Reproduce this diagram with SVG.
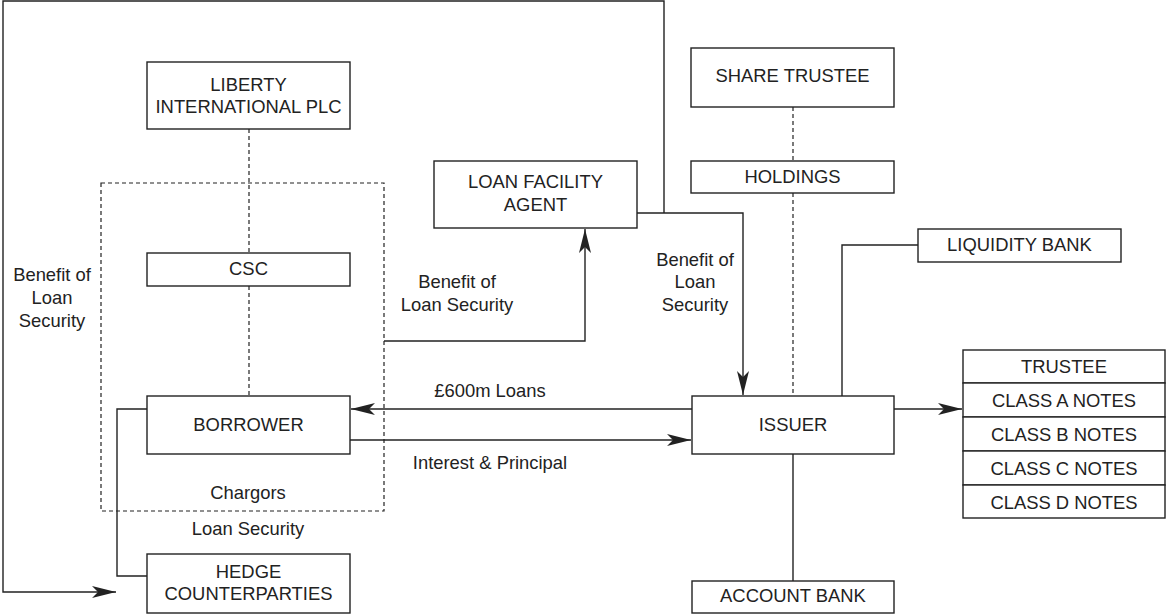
<svg xmlns="http://www.w3.org/2000/svg" width="1166" height="614" viewBox="0 0 1166 614">
<style>
.box{fill:#fff;stroke:#222;stroke-width:1.4}
.ln{fill:none;stroke:#222;stroke-width:1.4}
.dash{fill:none;stroke:#222;stroke-width:1.2;stroke-dasharray:4,3}
text{font-family:"Liberation Sans",Arial,sans-serif;font-size:18.4px;fill:#222;text-anchor:middle}
</style>
<defs>
<marker id="ah" markerUnits="userSpaceOnUse" markerWidth="24" markerHeight="12" refX="24" refY="6" orient="auto" overflow="visible">
<path d="M0,0 L24,6 L0,12 L6,6 Z" fill="#222"/>
</marker>
</defs>
<rect width="1166" height="614" fill="#fff"/>
<g id="connectors">
<rect class="dash" x="101" y="183" width="283" height="328"/>
<line class="dash" x1="249" y1="129" x2="249" y2="253"/>
<line class="dash" x1="249" y1="286" x2="249" y2="396"/>
<line class="dash" x1="793" y1="107" x2="793" y2="161"/>
<line class="dash" x1="793" y1="193" x2="793" y2="396"/>
<path class="ln" d="M664,213 L664,1 L3,1 L3,592 L116,592" marker-end="url(#ah)"/>
<path class="ln" d="M637,213 L743,213 L743,395" marker-end="url(#ah)"/>
<path class="ln" d="M384,341 L585,341 L585,229" marker-end="url(#ah)"/>
<path class="ln" d="M692,409 L351,409" marker-end="url(#ah)"/>
<path class="ln" d="M350,440 L691,440" marker-end="url(#ah)"/>
<path class="ln" d="M894,409 L962,409" marker-end="url(#ah)"/>
<path class="ln" d="M147,409 L117,409 L117,576 L147,576"/>
<path class="ln" d="M918,245 L842,245 L842,396"/>
<line class="ln" x1="793" y1="454" x2="793" y2="581"/>
<text x="52" y="281">Benefit of</text>
<text x="52" y="304">Loan</text>
<text x="52" y="327">Security</text>
<text x="457" y="288">Benefit of</text>
<text x="457" y="311">Loan Security</text>
<text x="695" y="266">Benefit of</text>
<text x="695" y="288">Loan</text>
<text x="695" y="311">Security</text>
<text x="490" y="397">£600m Loans</text>
<text x="490" y="469">Interest &amp; Principal</text>
<text x="248" y="499">Chargors</text>
<text x="248" y="535">Loan Security</text>
</g>
<g id="liberty"><rect class="box" x="147" y="62" width="203" height="67"/><text x="248.5" y="91">LIBERTY</text><text x="248.5" y="113">INTERNATIONAL PLC</text></g>
<g id="csc"><rect class="box" x="147" y="253" width="203" height="33"/><text x="248.5" y="275">CSC</text></g>
<g id="borrower"><rect class="box" x="147" y="396" width="203" height="58"/><text x="248.5" y="431">BORROWER</text></g>
<g id="hedge"><rect class="box" x="147" y="554" width="203" height="59"/><text x="248.5" y="578">HEDGE</text><text x="248.5" y="600">COUNTERPARTIES</text></g>
<g id="lfa"><rect class="box" x="434" y="161" width="203" height="67"/><text x="535.5" y="188">LOAN FACILITY</text><text x="535.5" y="211">AGENT</text></g>
<g id="share-trustee"><rect class="box" x="691" y="48" width="203" height="59"/><text x="792.5" y="82">SHARE TRUSTEE</text></g>
<g id="holdings"><rect class="box" x="691" y="161" width="203" height="32"/><text x="792.5" y="183">HOLDINGS</text></g>
<g id="liquidity-bank"><rect class="box" x="918" y="229" width="203" height="33"/><text x="1019.5" y="251">LIQUIDITY BANK</text></g>
<g id="issuer"><rect class="box" x="692" y="396" width="202" height="58"/><text x="793" y="431">ISSUER</text></g>
<g id="account-bank"><rect class="box" x="692" y="581" width="202" height="32"/><text x="793" y="602">ACCOUNT BANK</text></g>
<g id="notes">
<rect class="box" x="963" y="350" width="202" height="33"/><text x="1064" y="373">TRUSTEE</text>
<rect class="box" x="963" y="383" width="202" height="34"/><text x="1064" y="407">CLASS A NOTES</text>
<rect class="box" x="963" y="417" width="202" height="34"/><text x="1064" y="441">CLASS B NOTES</text>
<rect class="box" x="963" y="451" width="202" height="34"/><text x="1064" y="475">CLASS C NOTES</text>
<rect class="box" x="963" y="485" width="202" height="33"/><text x="1064" y="509">CLASS D NOTES</text>
</g>
</svg>
